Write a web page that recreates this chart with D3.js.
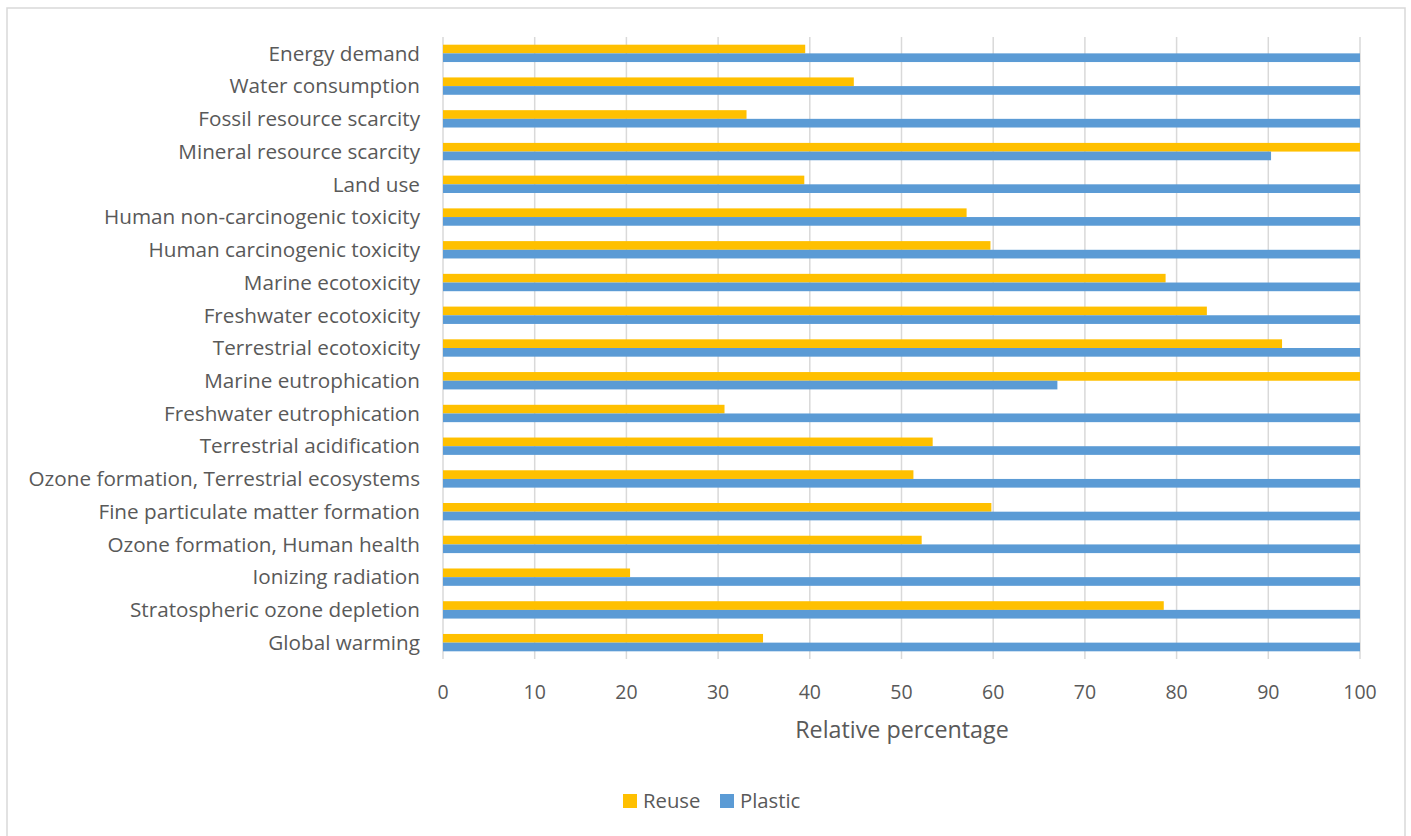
<!DOCTYPE html>
<html>
<head>
<meta charset="utf-8">
<script src="https://cdn.jsdelivr.net/npm/d3@7"></script>
<style>
  html, body { margin: 0; padding: 0; background: #fff; }
  svg { display: block; }
  text { font-family: "Open Sans", sans-serif; fill: #595959; }
</style>
</head>
<body>
<div id="chart"></div>
<script>
const categories = [
  "Energy demand",
  "Water consumption",
  "Fossil resource scarcity",
  "Mineral resource scarcity",
  "Land use",
  "Human non-carcinogenic toxicity",
  "Human carcinogenic toxicity",
  "Marine ecotoxicity",
  "Freshwater ecotoxicity",
  "Terrestrial ecotoxicity",
  "Marine eutrophication",
  "Freshwater eutrophication",
  "Terrestrial acidification",
  "Ozone formation, Terrestrial ecosystems",
  "Fine particulate matter formation",
  "Ozone formation, Human health",
  "Ionizing radiation",
  "Stratospheric ozone depletion",
  "Global warming"
];
const reuse = [39.5, 44.8, 33.1, 100, 39.4, 57.1, 59.7, 78.8, 83.3, 91.5, 100, 30.7, 53.4, 51.3, 59.8, 52.2, 20.4, 78.6, 34.9];
const plastic = [100, 100, 100, 90.3, 100, 100, 100, 100, 100, 100, 67.0, 100, 100, 100, 100, 100, 100, 100, 100];
const seriesNames = ["Reuse", "Plastic"];
const seriesColors = ["#FFC000", "#5B9BD5"];
const xTicks = [0, 10, 20, 30, 40, 50, 60, 70, 80, 90, 100];
const xTitle = "Relative percentage";

const W = 1411, H = 836;
const svg = d3.select("#chart").append("svg").attr("width", W).attr("height", H);

// outer chart border
svg.append("rect")
  .attr("x", 7).attr("y", 8).attr("width", 1398).attr("height", 840)
  .attr("fill", "#fff").attr("stroke", "#d9d9d9").attr("stroke-width", 1.5);

const x = d3.scaleLinear().domain([0, 100]).range([443, 1360]);
const y = d3.scaleBand().domain(categories).range([37, 659]).paddingInner(0.47).paddingOuter(0.235);
const ySub = d3.scaleBand().domain(seriesNames).range([0, y.bandwidth()]);

// gridlines
svg.append("g").selectAll("line").data(xTicks).join("line")
  .attr("x1", d => x(d)).attr("x2", d => x(d))
  .attr("y1", 37).attr("y2", 659)
  .attr("stroke", "#d9d9d9").attr("stroke-width", 1.5);

const rows = categories.map((c, i) => ({ c, vals: [reuse[i], plastic[i]] }));

const g = svg.append("g");
rows.forEach(r => {
  r.vals.forEach((v, k) => {
    g.append("rect")
      .attr("x", x(0))
      .attr("y", y(r.c) + ySub(seriesNames[k]))
      .attr("width", x(v) - x(0))
      .attr("height", ySub.bandwidth())
      .attr("fill", seriesColors[k]);
  });
});

// category labels
svg.append("g").selectAll("text").data(categories).join("text")
  .attr("x", 420)
  .attr("y", d => y(d) + y.bandwidth() / 2)
  .attr("dy", "0.35em")
  .attr("text-anchor", "end")
  .style("font-size", "20.7px")
  .text(d => d);

// x tick labels
svg.append("g").selectAll("text").data(xTicks).join("text")
  .attr("x", d => x(d))
  .attr("y", 699)
  .attr("text-anchor", "middle")
  .style("font-size", "19.5px")
  .text(d => d);

// axis title
svg.append("text")
  .attr("x", 902)
  .attr("y", 738)
  .attr("text-anchor", "middle")
  .style("font-size", "23.3px")
  .text(xTitle);

// legend
const legendItems = [
  { name: seriesNames[0], color: seriesColors[0], sx: 623, tx: 643 },
  { name: seriesNames[1], color: seriesColors[1], sx: 720, tx: 740 }
];
const lg = svg.append("g");
legendItems.forEach(it => {
  lg.append("rect").attr("x", it.sx).attr("y", 794).attr("width", 14).attr("height", 14).attr("fill", it.color);
  lg.append("text").attr("x", it.tx).attr("y", 808).style("font-size", "20.3px").text(it.name);
});
</script>
</body>
</html>
